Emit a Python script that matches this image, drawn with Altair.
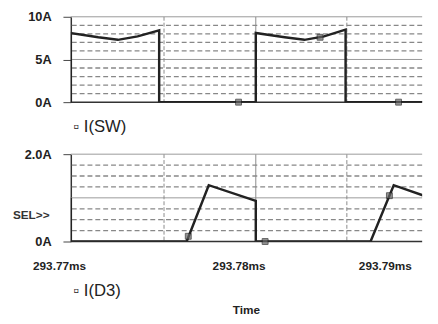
import altair as alt
import pandas as pd

# ---- data (time in ms, current in A) ----
sw_t = [293.77, 293.77, 293.77153, 293.77262, 293.77372, 293.77492, 293.77492,
        293.78030, 293.78030, 293.78191, 293.78301, 293.78410, 293.78530, 293.78530, 293.79]
sw_i = [0, 8.1, 7.6, 7.3, 7.7, 8.4, 0,
        0, 8.1, 7.6, 7.3, 7.7, 8.5, 0, 0]

d3_t = [293.77, 293.77, 293.77645, 293.77768, 293.78030, 293.78030,
        293.78669, 293.78798, 293.79]
d3_i = [1.0, 0, 0, 1.29, 0.93, 0,
        0, 1.29, 1.0]

sw_mark_t = [293.77934, 293.78388, 293.78825]
sw_mark_i = [0, 7.6, 0]
d3_mark_t = [293.77654, 293.78082, 293.78774]
d3_mark_i = [0.12, 0, 1.05]

x_domain = [293.77, 293.79]
x_label_vals = [293.77, 293.78, 293.79]
v_major = [293.78030]
v_minor = [293.77519, 293.78537]

sw_y_major = [5, 10]
sw_y_minor = [1, 2, 3, 4, 6, 7, 8, 9]
sw_y_labels = [0, 5, 10]
d3_y_major = [1, 2]
d3_y_minor = [0.25, 0.5, 0.75, 1.25, 1.5, 1.75]
d3_y_labels = [0, 2]
baseline = [0]
sel_level = [0.6]

FONT = "Liberation Sans"
INK = "#222222"
W = 358
# the time axis runs a little past the visible plot (the trace is cut at the right edge)
xs = alt.Scale(domain=x_domain, range=[0, 366], nice=False, zero=False)


def panel(t, i, mt, mi, ymax, ymaj, ymin, ylab, ylabexpr, height, xaxis, sel=False):
    ys = alt.Scale(domain=[0, ymax], nice=False, zero=True)
    yaxis = alt.Axis(
        values=ylab, labelExpr=ylabexpr, grid=False, ticks=True, tickSize=8,
        tickColor="#444444", domain=True, domainColor="#333333", domainWidth=1.5,
        labelFont=FONT, labelFontSize=13, labelFontWeight="bold", labelColor=INK,
        labelPadding=12, title=None)

    def X(f):
        return alt.X(f + ":Q", scale=xs, axis=xaxis)

    def Y(f):
        return alt.Y(f + ":Q", scale=ys, axis=yaxis)

    hmin = alt.Chart(pd.DataFrame({"i": ymin})).mark_rule(
        color="#888888", strokeWidth=1.3, strokeDash=[5, 3]).encode(y=Y("i"))
    hmaj = alt.Chart(pd.DataFrame({"i": ymaj})).mark_rule(
        color="#999999", strokeWidth=1).encode(y=Y("i"))
    hbase = alt.Chart(pd.DataFrame({"i": baseline})).mark_rule(
        color="#333333", strokeWidth=1.5).encode(y=Y("i"))
    vmaj = alt.Chart(pd.DataFrame({"t": v_major})).mark_rule(
        color="#8a8a8a", strokeWidth=1, clip=True).encode(x=X("t"))
    vmin = alt.Chart(pd.DataFrame({"t": v_minor})).mark_rule(
        color="#8a8a8a", strokeWidth=1, strokeDash=[4, 2], clip=True).encode(x=X("t"))
    df = pd.DataFrame({"t": t, "i": i, "k": list(range(len(t)))})
    line = alt.Chart(df).mark_line(color=INK, strokeWidth=2.5, clip=True).encode(
        x=X("t"), y=Y("i"), order=alt.Order("k:Q"))
    marks = alt.Chart(pd.DataFrame({"t": mt, "i": mi})).mark_point(
        shape="square", filled=True, size=36, color="#666666", stroke="#222222",
        strokeWidth=1).encode(x=X("t"), y=Y("i"))
    layers = [hmin, hmaj, hbase, vmaj, vmin, line, marks]
    if sel:
        layers.append(alt.Chart(pd.DataFrame({"i": sel_level})).mark_text(
            text="SEL>>", align="left", baseline="middle", font=FONT, fontSize=12,
            fontWeight="bold", color="#333333").encode(x=alt.value(-59), y=Y("i")))
    return alt.layer(*layers).properties(width=W, height=height)


top_axis = alt.Axis(labels=False, ticks=False, grid=False, domain=False,
                    title="▫ I(SW)", titleFont=FONT, titleFontSize=17,
                    titleFontWeight="normal", titleColor=INK, titleAnchor="start",
                    titleAlign="left", titleBaseline="middle", titleX=2, titleY=25)
bot_axis = alt.Axis(values=x_label_vals, labelExpr="format(datum.value, '.2f') + 'ms'",
                    labelFlush=False, labelOverlap=False, labelBound=False,
                    labelOffset={"condition": {"test": "datum.value > 293.785", "value": -46},
                                 "value": -12},
                    ticks=False, grid=False, domain=False,
                    labelFont=FONT, labelFontSize=12, labelFontWeight="bold", labelColor=INK,
                    labelPadding=20,
                    title="▫ I(D3)", titleFont=FONT, titleFontSize=17,
                    titleFontWeight="normal", titleColor=INK, titleAnchor="start",
                    titleAlign="left", titleBaseline="middle", titleX=2, titleY=50)

top = panel(sw_t, sw_i, sw_mark_t, sw_mark_i, 10, sw_y_major, sw_y_minor, sw_y_labels,
            "datum.value + 'A'", 87, top_axis)
bottom = panel(d3_t, d3_i, d3_mark_t, d3_mark_i, 2, d3_y_major, d3_y_minor, d3_y_labels,
               "datum.value == 2 ? '2.0A' : '0A'", 89, bot_axis, sel=True).properties(
    title=alt.TitleParams(text="Time", orient="bottom", anchor="middle", frame="group",
                          font=FONT, fontSize=12, fontWeight="bold", color=INK, offset=7))

chart = alt.vconcat(top, bottom, spacing=14).properties(
    padding={"left": 5, "top": 0, "right": 0, "bottom": 0},
    background="white",
).configure_view(stroke=None)

chart.save("out.html", embed_options={"renderer": "svg", "actions": False})
